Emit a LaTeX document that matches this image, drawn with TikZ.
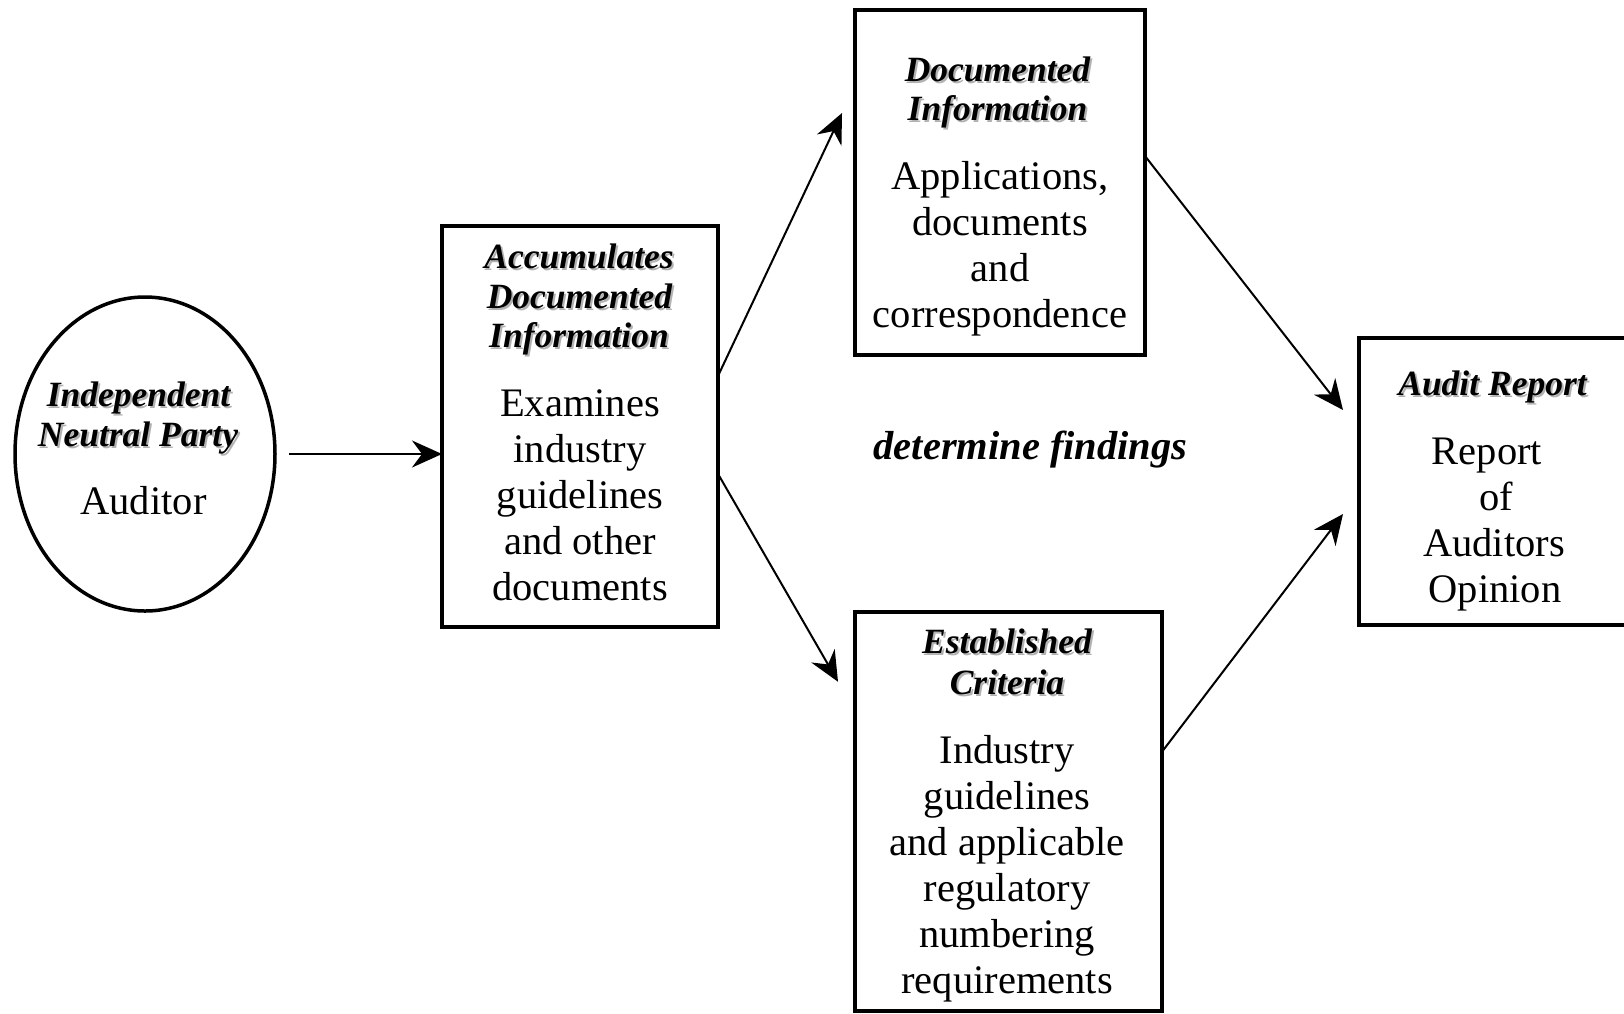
\documentclass[tikz,border=0pt]{standalone}
\usepackage{fontspec}
\setmainfont{Liberation Serif}
\usetikzlibrary{arrows.meta,shapes.geometric}
\newcommand\shadowtxt[1]{\makebox[0pt][l]{\hspace{2pt}\raisebox{-2pt}{\textcolor{black!30}{#1}}}#1}
\begin{document}
\begin{tikzpicture}[x=1pt,y=-1pt,
 box/.style={draw, line width=4pt, rectangle, inner sep=0pt, outer sep=0pt},
 oval/.style={draw, line width=3.5pt, ellipse, inner sep=0pt, outer sep=0pt},
 hd/.style={anchor=base, inner sep=0pt, font=\fontsize{35.5}{40}\selectfont\bfseries\itshape},
 bd/.style={anchor=base, inner sep=0pt, font=\fontsize{40.5}{46}\selectfont},
 lbl/.style={anchor=base, inner sep=0pt, font=\fontsize{40.5}{46}\selectfont\bfseries\itshape},
 arr/.style={line width=2pt, -{Stealth[length=30pt,width=27pt,inset=10pt]}}
]
\useasboundingbox (0,0) rectangle (1624,1013);
\fill[white] (0,0) rectangle (1624,1013);

% shapes
\node[oval, minimum width=260pt, minimum height=314pt] (ell) at (145,454) {};
\node[box, minimum width=275.5pt, minimum height=401pt] (acc) at (579.75,426) {};
\node[box, minimum width=290pt, minimum height=345pt] (doc) at (1000,182.5) {};
\node[box, minimum width=307pt, minimum height=398.5pt] (est) at (1008.5,811.25) {};
\node[box, minimum width=268pt, minimum height=287pt] (aud) at (1493,481.5) {};

% ellipse text
\node[hd] (e1) at (138.5,406.5) {\shadowtxt{Independent}};
\node[hd] (e2) at (138,446.5) {\shadowtxt{Neutral Party}};
\node[bd] (e3) at (143.5,514) {Auditor};

% accumulates text
\node[hd] (a1) at (579,268) {\shadowtxt{Accumulates}};
\node[hd] (a2) at (579.5,308) {\shadowtxt{Documented}};
\node[hd] (a3) at (579,347.5) {\shadowtxt{Information}};
\node[bd] (a4) at (580,416) {Examines};
\node[bd] (a5) at (580,462) {industry};
\node[bd] (a6) at (580,508) {guidelines};
\node[bd] (a7) at (580,554) {and other};
\node[bd] (a8) at (580,600) {documents};

% documented information text
\node[hd] (d1) at (997.5,81) {\shadowtxt{Documented}};
\node[hd] (d2) at (997.5,120) {\shadowtxt{Information}};
\node[bd] (d3) at (1000,189) {Applications,};
\node[bd] (d4) at (1000,235) {documents};
\node[bd] (d5) at (1000,281) {and};
\node[bd] (d6) at (1000,327) {correspondence};

% established criteria text
\node[hd] (c1) at (1007,653.5) {\shadowtxt{Established}};
\node[hd] (c2) at (1007,694.5) {\shadowtxt{Criteria}};
\node[bd] (c3) at (1007,763) {Industry};
\node[bd] (c4) at (1007,809) {guidelines};
\node[bd] (c5) at (1007,855) {and applicable};
\node[bd] (c6) at (1007,901) {regulatory};
\node[bd] (c7) at (1007,947) {numbering};
\node[bd] (c8) at (1007,993) {requirements};

% audit report text
\node[hd] (r1) at (1492.5,395) {\shadowtxt{Audit Report}};
\node[bd] (r2) at (1487,464) {Report};
\node[bd] (r3) at (1496,510) {of};
\node[bd] (r4) at (1494,556) {Auditors};
\node[bd] (r5) at (1495,602) {Opinion};

% middle label
\node[lbl] (lab) at (1030.5,459) {determine findings};

% connectors
\draw[arr, shorten <=14pt] (ell.east) -- (ell.east -| acc.west);
\draw[arr] ([yshift=49pt]acc.east) -- ([xshift=-13pt,yshift=69.5pt]doc.west);
\draw[arr] ([yshift=-47pt]acc.east) -- ([xshift=-17pt,yshift=129.5pt]est.west);
\draw[arr] ([yshift=26.5pt]doc.east) -- ([xshift=-16pt,yshift=71.5pt]aud.west);
\draw[arr] ([yshift=59.5pt]est.east) -- ([xshift=-16pt,yshift=-32.5pt]aud.west);
\end{tikzpicture}
\end{document}
